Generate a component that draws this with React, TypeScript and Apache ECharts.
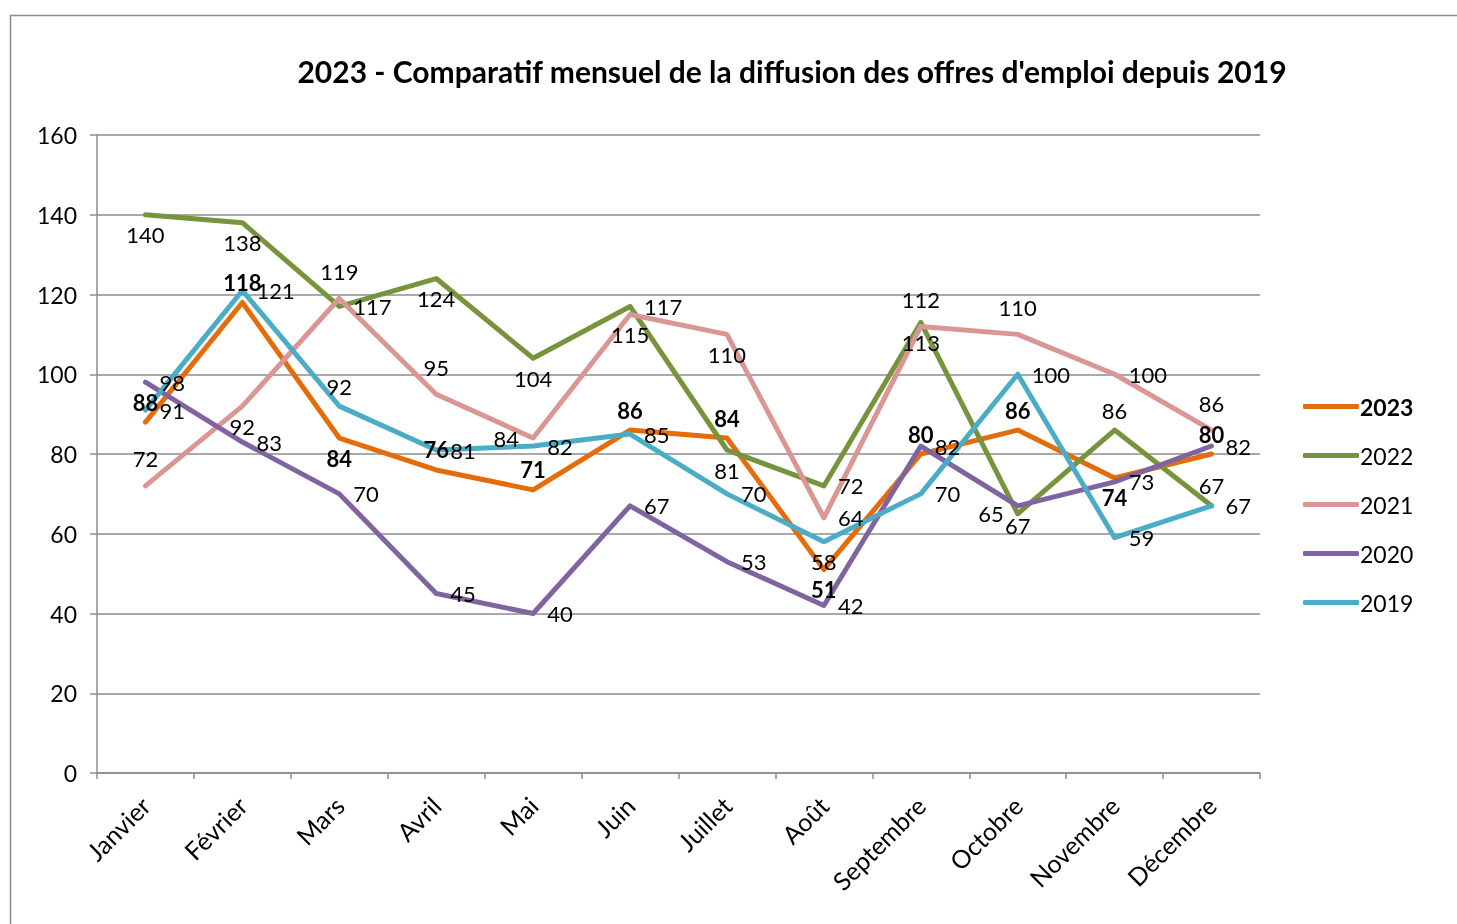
import React, { useEffect, useRef } from "react";
import * as echarts from "echarts";

const months = ["Janvier", "Février", "Mars", "Avril", "Mai", "Juin", "Juillet", "Août", "Septembre", "Octobre", "Novembre", "Décembre"];
const yTicks = [0, 20, 40, 60, 80, 100, 120, 140, 160];
const y2023 = [88, 118, 84, 76, 71, 86, 84, 51, 80, 86, 74, 80];
const y2022 = [140, 138, 117, 124, 104, 117, 81, 72, 113, 65, 86, 67];
const y2021 = [72, 92, 119, 95, 84, 115, 110, 64, 112, 110, 100, 86];
const y2020 = [98, 83, 70, 45, 40, 67, 53, 42, 82, 67, 73, 82];
const y2019 = [91, 121, 92, 81, 82, 85, 70, 58, 70, 100, 59, 67];
const seriesNames = ["2023", "2022", "2021", "2020", "2019"];

// label placement (style only)
const labelPos2023 = ["top", "top", "bottom", "top", "top", "top", "top", "bottom", "top", "top", "bottom", "top"];
const labelPos2022 = ["bottom", "bottom", "right", "bottom", "bottom", "right", "bottom", "right", "bottom", "left", "top", "top"];
const labelPos2021 = ["top", "bottom", "top", "top", "left", "bottom", "bottom", "right", "top", "top", "right", "top"];
const labelPos2020 = ["right", "right", "right", "right", "right", "right", "right", "right", "right", "bottom", "right", "right"];
const labelPos2019 = ["right", "right", "top", "right", "right", "right", "right", "bottom", "right", "right", "right", "right"];
const topDistance = [9, 9, 16, 9, 9];

const FONT = "Lato, 'Open Sans', sans-serif";

export default function App() {
  const ref = useRef<HTMLDivElement>(null);
  useEffect(() => {
    if (!ref.current) return;
    const chart = echarts.init(ref.current, undefined, { renderer: "svg" });
    const colors = ["#E46C0A", "#77933C", "#D99694", "#8064A2", "#4BACC6"];
    const values = [y2023, y2022, y2021, y2020, y2019];
    const positions = [labelPos2023, labelPos2022, labelPos2021, labelPos2020, labelPos2019];
    chart.setOption({
      animation: false,
      textStyle: { fontFamily: FONT },
      title: {
        text: "2023 - Comparatif mensuel de la diffusion des offres d'emploi depuis 2019",
        left: 787,
        top: 51,
        textAlign: "center",
        textStyle: { fontFamily: FONT, fontSize: 30, fontWeight: "bold", color: "#000" },
      },
      graphic: [
        {
          type: "rect",
          shape: { x: 10.5, y: 15.5, width: 1500, height: 1000 },
          style: { fill: "none", stroke: "#8c8c8c", lineWidth: 1.5 },
          silent: true,
        },
      ],
      legend: {
        orient: "vertical",
        left: 1298,
        top: 390,
        itemWidth: 56,
        itemHeight: 5,
        itemGap: 26,
        icon: "roundRect",
        data: seriesNames.map((n, i) => ({
          name: n,
          textStyle: { fontSize: 23, color: "#000", fontWeight: i === 0 ? "bold" : "normal", fontFamily: FONT },
        })),
        textStyle: { fontSize: 23, color: "#000", fontFamily: FONT, padding: [0, 0, 0, -4] },
      },
      grid: { left: 97, right: 197, top: 135, bottom: 151, containLabel: false },
      xAxis: {
        type: "category",
        data: months,
        boundaryGap: true,
        axisLine: { lineStyle: { color: "#8c8c8c", width: 1.5 } },
        axisTick: { show: true, alignWithLabel: false, length: 6, lineStyle: { color: "#8c8c8c", width: 1.5 } },
        axisLabel: { rotate: 45, fontSize: 25, color: "#000", fontFamily: FONT, margin: 28, interval: 0 },
      },
      yAxis: {
        type: "value",
        min: yTicks[0],
        max: yTicks[yTicks.length - 1],
        interval: 20,
        axisLine: { show: true, lineStyle: { color: "#8c8c8c", width: 1.5 } },
        axisTick: { show: true, length: 7, lineStyle: { color: "#8c8c8c", width: 1.5 } },
        axisLabel: { fontSize: 23, color: "#000", fontFamily: FONT, margin: 20 },
        splitLine: { lineStyle: { color: "#8c8c8c", width: 1.5 } },
      },
      series: seriesNames.map((n, i) => ({
        name: n,
        type: "line",
        data: values[i].map((v, j) => {
          const p = positions[i][j];
          return {
            value: v,
            label: {
              position: p,
              distance: p === "right" || p === "left" ? 14 : p === "top" ? topDistance[i] : 9,
            },
          };
        }),
        symbol: "circle",
        symbolSize: 0,
        showSymbol: true,
        lineStyle: { color: colors[i], width: 5, cap: "round", join: "round" },
        itemStyle: { color: colors[i] },
        labelLayout: { hideOverlap: false },
        label: {
          show: true,
          fontSize: 22,
          lineHeight: 22,
          color: "#000",
          fontFamily: FONT,
          fontWeight: i === 0 ? "bold" : "normal",
        },
      })),
    });
    return () => chart.dispose();
  }, []);
  return <div ref={ref} style={{ position: "fixed", left: 0, top: 0, width: 1457, height: 924 }} />;
}
